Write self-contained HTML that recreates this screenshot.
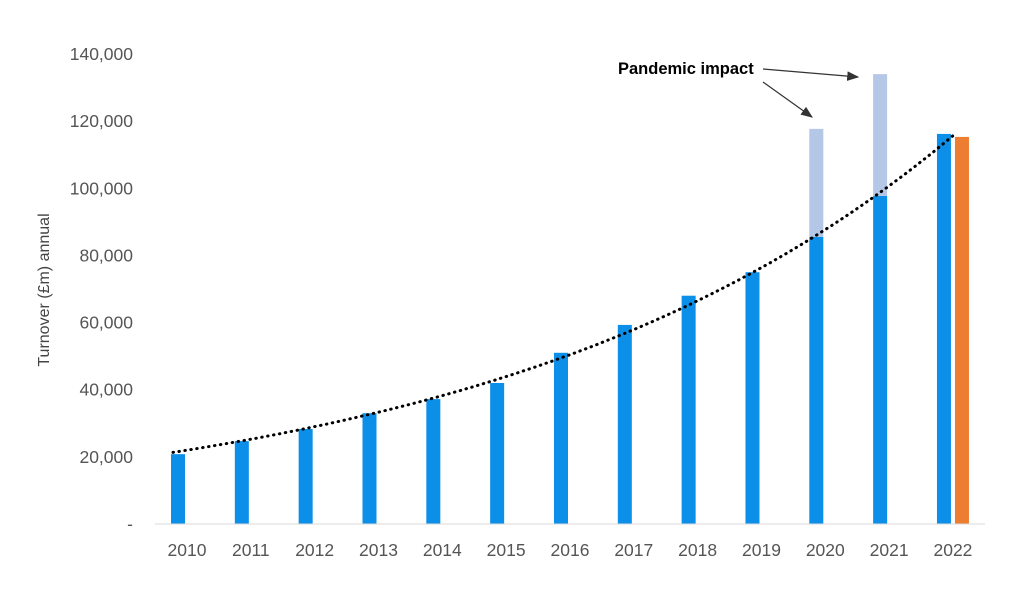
<!DOCTYPE html>
<html><head><meta charset="utf-8"><style>
body{margin:0;background:#fff;}
svg text{font-family:"Liberation Sans",sans-serif;}
</style></head><body>
<svg id="chart" width="1024" height="586" viewBox="0 0 1024 586" xmlns="http://www.w3.org/2000/svg">
<defs><marker id="ah" markerWidth="10" markerHeight="8" refX="9" refY="4" orient="auto"><path d="M0,0 L10,4 L0,8 z" fill="#333"/></marker></defs>
<text transform="translate(49,290) rotate(-90)" text-anchor="middle" font-size="16" fill="#444">Turnover (£m) annual</text>
<g id="yticks"></g><g id="bars"></g><g id="xlabels"></g>
<line x1="155" y1="524" x2="985" y2="524" stroke="#d9d9d9" stroke-width="1"/>
<path id="trend" fill="none" stroke="#000" stroke-width="3" stroke-dasharray="0.5,5.5" stroke-linecap="round"/>
<text x="618" y="74" font-size="16.5" font-weight="bold" fill="#000">Pandemic impact</text>
<line x1="763" y1="69" x2="858" y2="77" stroke="#333" stroke-width="1.2" marker-end="url(#ah)"/>
<line x1="763" y1="82" x2="812" y2="117" stroke="#333" stroke-width="1.2" marker-end="url(#ah)"/>
</svg>
<script>
const years=["2010","2011","2012","2013","2014","2015","2016","2017","2018","2019","2020","2021","2022"];
const baseValues=[20800,24700,28300,33000,37200,42000,51000,59300,68000,75000,85500,97700,116200];
const pandemicTotals=[null,null,null,null,null,null,null,null,null,null,117700,134000,null];
const forecastValues=[null,null,null,null,null,null,null,null,null,null,null,null,115300];
const yTicks=[0,20000,40000,60000,80000,100000,120000,140000];
const NS="http://www.w3.org/2000/svg";
const y=v=>524-v*470/140000;
const xc=i=>187+i*63.83;
function mk(t,a,p){const e=document.createElementNS(NS,t);for(const k in a)e.setAttribute(k,a[k]);p.appendChild(e);return e;}
const yt=document.getElementById('yticks');
yTicks.forEach(v=>{const t=mk('text',{x:133,y:y(v)+6,'text-anchor':'end','font-size':17.5,fill:'#555'},yt);


t.textContent=v===0?'-':v.toLocaleString('en-US');});
const bg=document.getElementById('bars'),xl=document.getElementById('xlabels');
years.forEach((yr,i)=>{const c=xc(i);
if(pandemicTotals[i]!=null){const r=mk('rect',{x:c-16,y:y(pandemicTotals[i]),width:14,height:y(baseValues[i])-y(pandemicTotals[i]),fill:'#b4c7e7'},bg);

}
const b=mk('rect',{x:c-16,y:y(baseValues[i]),width:14,height:524-y(baseValues[i]),fill:'#0b8fe8'},bg);


if(forecastValues[i]!=null){const o=mk('rect',{x:c+2,y:y(forecastValues[i]),width:14,height:524-y(forecastValues[i]),fill:'#ed7d31'},bg);

}
const t=mk('text',{x:c,y:556,'text-anchor':'middle','font-size':17.5,fill:'#555'},xl);


t.textContent=yr;});
const n=baseValues.length;let sx=0,sy=0,sxx=0,sxy=0;
baseValues.forEach((v,i)=>{const l=Math.log(v);sx+=i;sy+=l;sxx+=i*i;sxy+=i*l;});
const bb=(n*sxy-sx*sy)/(n*sxx-sx*sx),aa=(sy-bb*sx)/n;
let d='';for(let k=0;k<=120;k++){const t=k/120*(n-1);const px=xc(t)-14+(k/120)*14;d+=(k?'L':'M')+px.toFixed(1)+','+y(Math.exp(aa+bb*t)).toFixed(1);}
document.getElementById('trend').setAttribute('d',d);
</script>
</body></html>
